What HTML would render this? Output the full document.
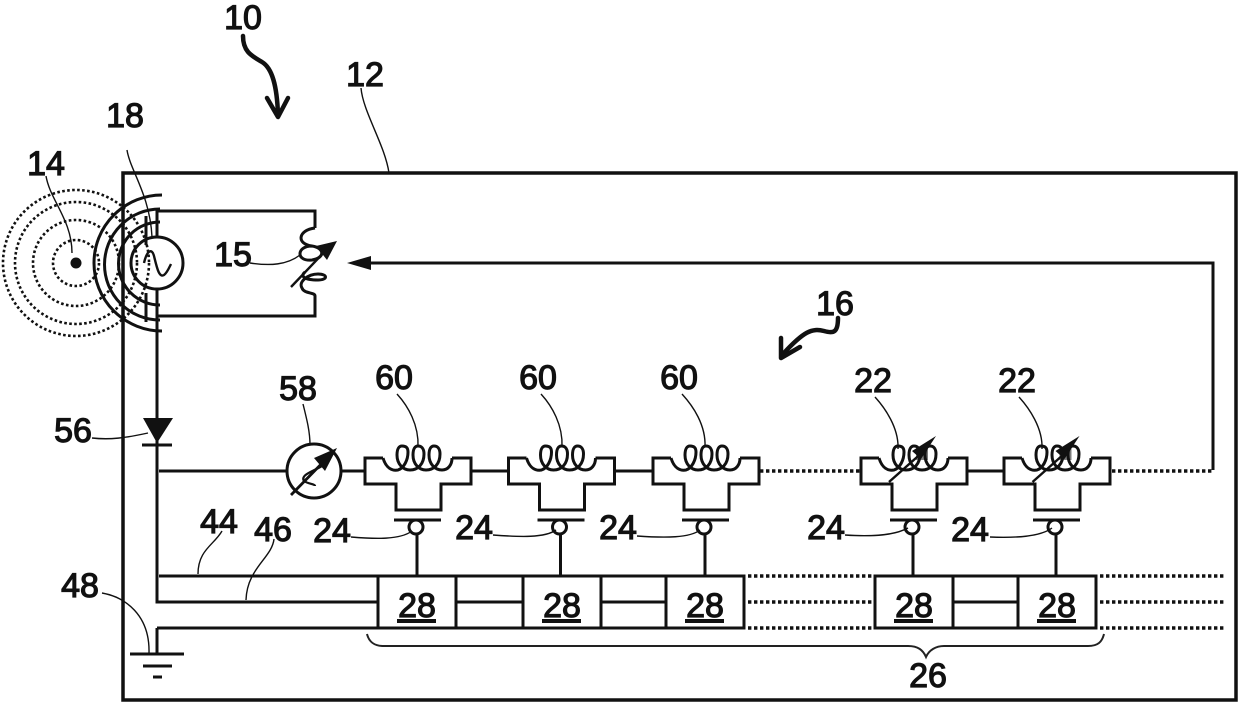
<!DOCTYPE html>
<html><head><meta charset="utf-8"><style>
html,body{margin:0;padding:0;background:#fff;width:1240px;height:705px;overflow:hidden}
svg{display:block}
text{font-family:"Liberation Sans",sans-serif;font-size:34px;fill:#111;stroke:#111;stroke-width:1.2px;text-anchor:middle}
.w{fill:none;stroke:#111;stroke-width:3}
.t{fill:none;stroke:#111;stroke-width:1.4}
.d{fill:none;stroke:#111;stroke-width:2.6;stroke-dasharray:2.6 2.4}
.l{fill:none;stroke:#111;stroke-width:3.4;stroke-dasharray:3.4 2.6}
.b{fill:none;stroke:#111;stroke-width:4.5;stroke-linecap:round;stroke-linejoin:round}
</style></head><body>
<svg width="1240" height="705" viewBox="0 0 1240 705" xmlns="http://www.w3.org/2000/svg">
<defs>
<g id="cell">
<path class="w" d="M383 458H365V484H396V510H441V484H471V458H452"/>
<path class="w" d="M383 458C386 468 392 471 398 470C404 468 408 460 408 452C408 447 405 446 402 446C399 446 397 449 397 455C397 464 403 470 410 470C418 470 424 464 424 454C424 448 421 446 418 446C415 446 413 449 413 455C413 464 419 470 426 470C434 470 440 464 440 454C440 448 437 446 434 446C431 446 429 449 429 455C429 464 435 470 442 470C448 470 452 465 452 458"/>
<path class="w" d="M394 520H441"/>
<circle class="w" cx="416" cy="527" r="7" fill="#fff"/>
<path class="w" d="M417 534V576"/>
</g>
<g id="box">
<rect class="w" x="378" y="576" width="78" height="52"/>
<text x="417" y="617">28</text>
<rect x="397" y="619" width="39" height="4" fill="#111"/>
</g>
</defs>
<!-- main enclosure -->
<rect x="123" y="173" width="1113" height="527" fill="none" stroke="#111" stroke-width="3.5"/>
<!-- dotted waves -->
<circle cx="76" cy="263" r="23" class="d"/>
<circle cx="76" cy="263" r="43" class="d"/>
<circle cx="76" cy="263" r="61" class="d"/>
<circle cx="76" cy="263" r="73" class="d"/>
<circle cx="76" cy="263" r="5.5" fill="#111"/>
<!-- solid arcs -->
<path class="w" d="M162 195A68 68 0 0 0 162 331"/>
<path class="w" d="M160 209A54 54 0 0 0 160 320"/>
<path class="w" d="M160 222A41 41 0 0 0 160 305"/>
<path class="w" d="M146 216V245M146 293V322"/>
<!-- source & resonator -->
<path class="w" d="M157 237V211H315V228M157 289V316H315V296"/>
<circle cx="157" cy="263" r="26" fill="none" stroke="#111" stroke-width="3"/>
<path fill="none" stroke="#111" stroke-width="2.4" d="M144 263C147 250 152 248 154 256C157 268 159 278 164 275C167 273 169 268 171 264"/>
<!-- inductor -->
<path class="w" d="M315 228C298 230 296 244 312 246C296 246 296 262 312 260C325 258 325 248 312 246M305 272C300 276 304 280 318 280C328 280 328 274 318 274C308 274 298 282 302 288C304 294 315 292 315 296"/>
<path fill="none" stroke="#111" stroke-width="2.4" d="M291 287L330 246"/>
<path d="M337 241L316 246L327 260Z" fill="#111"/>
<!-- feedback arrow -->
<path class="w" d="M362 263H1213V470"/>
<path d="M347 263L371 256V270Z" fill="#111"/>
<!-- diode rail -->
<path class="w" d="M157 316V602H378"/>
<path d="M143 418H173L157 443Z" fill="#111"/>
<path class="w" d="M142 445H172"/>
<path class="w" d="M159 471H287M159 576H378M340 471H365"/>
<path class="w" d="M157 628H378M157 628V654"/>
<!-- ground -->
<path class="w" d="M130 654H184M143 666H172"/>
<path class="w" d="M153 677H162"/>
<!-- meter -->
<circle class="w" cx="314" cy="471" r="27" fill="#fff"/>
<path fill="none" stroke="#111" stroke-width="2.8" d="M291 495L333 452"/>
<path d="M337 448L314 458L325 471Z" fill="#111"/>
<path fill="none" stroke="#111" stroke-width="2.2" d="M322 466C312 472 300 475 304 481C308 484 315 484 315 486"/>
<!-- cells -->
<use href="#cell"/>
<use href="#cell" x="143.5"/>
<use href="#cell" x="288"/>
<use href="#cell" x="496"/>
<use href="#cell" x="639"/>
<!-- variable arrows over 22 -->
<path fill="none" stroke="#111" stroke-width="2.4" d="M889 482L925 450"/>
<path d="M936 436L912 451L921 459Z" fill="#111"/>
<path d="M916 448h12v12h-12z" fill="#111" opacity=".55"/>
<g transform="translate(143.5 0)">
<path fill="none" stroke="#111" stroke-width="2.4" d="M889 482L925 450"/>
<path d="M936 436L912 451L921 459Z" fill="#111"/>
<path d="M916 448h12v12h-12z" fill="#111" opacity=".55"/>
</g>
<!-- connecting lines -->
<path class="w" d="M471 471H509M615 471H653M967 471H1004"/>
<path class="l" d="M760 471H860M1112 471H1212"/>
<!-- boxes -->
<use href="#box"/>
<use href="#box" x="145"/>
<use href="#box" x="288"/>
<use href="#box" x="497"/>
<use href="#box" x="640"/>
<path class="w" d="M456 576H523M456 602H523M456 628H523M601 576H666M601 602H666M601 628H666M953 576H1018M953 602H1018M953 628H1018"/>
<path class="l" d="M748 576H874M748 602H874M748 628H874M1100 576H1225M1100 602H1225M1100 628H1225"/>
<!-- brace -->
<path fill="none" stroke="#222" stroke-width="2" d="M367 634C369 642 374 646 384 646H908C918 646 923 650 926 657C929 650 936 646 944 646H1088C1098 646 1102 642 1104 634"/>
<!-- squiggle arrows -->
<path class="b" d="M243 36C243 52 252 56 262 62C272 68 277 85 278 115"/>
<path class="b" d="M267 98L278 117L288 98"/>
<path class="b" d="M838 318C838 332 834 334 824 331C812 328 804 331 783 354"/>
<path class="b" d="M781 338L781 358L800 347"/>
<!-- leaders -->
<g class="t">
<path d="M361 88C363 112 385 145 389 173"/>
<path d="M46 176C50 200 72 220 72 253"/>
<path d="M127 150C130 170 150 195 152 237"/>
<path d="M250 263C270 266 287 265 300 255"/>
<path d="M92 438C110 440 125 438 148 433"/>
<path d="M222 531C214 545 198 550 198 574"/>
<path d="M274 539C272 558 247 568 246 600"/>
<path d="M102 593C125 597 150 615 149 653"/>
<path d="M303 404C307 420 310 432 310 445"/>
<path d="M397 394C408 406 419 425 418 447"/>
<path d="M541 394C552 406 563 425 562 447"/>
<path d="M682 394C693 406 706 425 705 447"/>
<path d="M875 397C885 408 899 428 898 449"/>
<path d="M1019 397C1029 408 1043 428 1042 449"/>
<path d="M351 537C375 539 400 540 412 531"/>
<path d="M493 535C520 537 545 538 556 530"/>
<path d="M637 536C665 538 690 538 700 530"/>
<path d="M845 535C875 537 895 535 908 528"/>
<path d="M990 537C1015 538 1040 537 1052 528"/>
</g>
<!-- labels -->
<text x="243" y="29">10</text>
<text x="365" y="86">12</text>
<text x="46" y="175">14</text>
<text x="125" y="127">18</text>
<text x="233" y="266">15</text>
<text x="835" y="315">16</text>
<text x="73" y="442">56</text>
<text x="298" y="400">58</text>
<text x="394" y="389">60</text>
<text x="538" y="389">60</text>
<text x="679" y="389">60</text>
<text x="873" y="392">22</text>
<text x="1017" y="392">22</text>
<text x="219" y="533">44</text>
<text x="273" y="541">46</text>
<text x="80" y="597">48</text>
<text x="332" y="542">24</text>
<text x="474" y="539">24</text>
<text x="618" y="539">24</text>
<text x="826" y="539">24</text>
<text x="970" y="541">24</text>
<text x="928" y="687">26</text>
</svg>
</body></html>
